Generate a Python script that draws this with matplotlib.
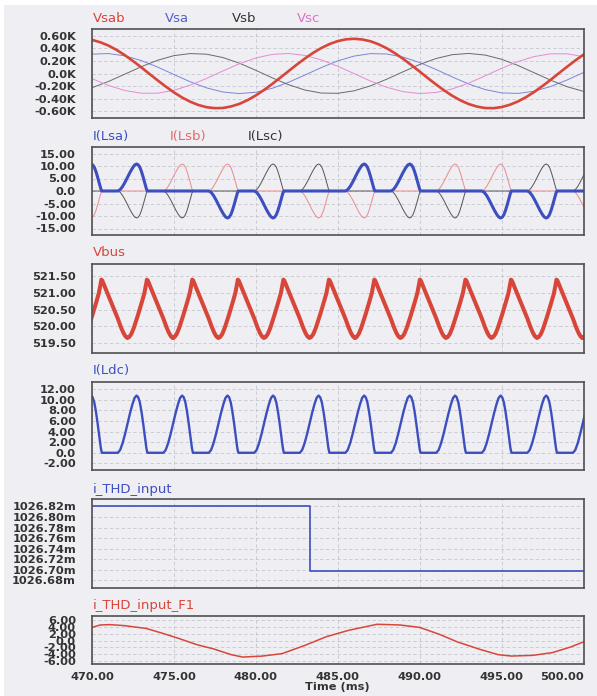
import matplotlib.pyplot as plt
from matplotlib.patches import Rectangle

plt.rcParams['font.family'] = ['DejaVu Sans']

# ---- values (time in ms) ----
t_src = list(range(470, 501))
t_sab = [470 + 0.5 * i for i in range(61)]
vsab = [536, 499, 446, 376, 293, 199, 100, -5, -108, -208, -301, -383, -451, -503, -538, -553,
        -550, -525, -484, -424, -350, -263, -167, -65, 39, 142, 240, 330, 407, 470, 517, 545,
        554, 543, 514, 465, 401, 322, 232, 133, 31, -74, -175, -271, -357, -430, -488, -528,
        -551, -553, -536, -499, -446, -376, -293, -199, -100, 5, 108, 208, 301]
vsa = [309, 318, 282, 207, 103, -16, -133, -230, -296, -320, -299, -236, -140, -24, 95, 201,
       278, 317, 311, 261, 175, 64, -56, -168, -257, -309, -318, -282, -207, -103, 16]
vsb = [-227, -128, -11, 107, 211, 285, 318, 308, 254, 164, 51, -69, -179, -264, -312, -316,
       -276, -197, -90, 29, 144, 239, 301, 320, 294, 227, 128, 11, -107, -211, -285]
vsc = [-82, -190, -271, -314, -314, -269, -185, -78, 42, 156, 248, 305, 319, 288, 217, 115,
       -2, -120, -221, -290, -319, -303, -245, -152, -37, 82, 190, 271, 314, 314, 269]

# diode conduction pulses: peak time, peak current, phase carrying + and - current
pulse_peak_t = [469.94, 472.72, 475.50, 478.27, 481.05, 483.83, 486.61, 489.39,
                492.16, 494.94, 497.72, 500.50]
pulse_peak_i = [10.8, 10.8, 10.8, 10.8, 10.8, 10.8, 10.8, 10.8, 10.8, 10.8, 10.8, 10.8]
pulse_pos = ['a', 'a', 'b', 'b', 'c', 'c', 'a', 'a', 'b', 'b', 'c', 'c']
pulse_neg = ['b', 'c', 'c', 'a', 'a', 'b', 'b', 'c', 'c', 'a', 'a', 'b']
# one current pulse: offset from its peak (ms) and fraction of the peak
pulse_dt = [-1.14, -1.00, -0.85, -0.70, -0.55, -0.40, -0.25, -0.12, 0.0,
            0.10, 0.20, 0.30, 0.40, 0.50, 0.60, 0.66]
pulse_frac = [0.0, 0.05, 0.17, 0.33, 0.51, 0.69, 0.85, 0.96, 1.0,
              0.97, 0.88, 0.72, 0.52, 0.30, 0.08, 0.0]

# dc bus ripple: peak times and one ripple cycle around a peak
vbus_peak_t = [470.57, 473.35, 476.12, 478.90, 481.68, 484.46, 487.23, 490.01,
               492.79, 495.57, 498.35, 501.12]
vbus_dt = [-1.19, -1.08, -0.95, -0.80, -0.55, -0.30, -0.15, -0.07, -0.02, 0.0,
           0.05, 0.12, 0.25, 1.00, 1.20, 1.35, 1.47, 1.588]
vbus_val = [519.65, 519.68, 519.77, 519.95, 520.33, 520.74, 521.00, 521.20, 521.34, 521.40,
            521.38, 521.30, 521.14, 520.24, 519.97, 519.80, 519.70, 519.65]

# THD of input current (m units)
thd_t = [470.0, 483.3, 483.3, 500.0]
thd_val = [1026.82, 1026.82, 1026.697, 1026.697]

f1_t = [470.0, 470.5, 471.1, 472.0, 473.3, 474.3, 475.3, 476.4, 477.4, 478.5, 479.2, 480.4,
        481.6, 483.0, 484.3, 485.7, 487.4, 488.8, 490.0, 491.2, 492.3, 493.7, 494.8, 495.6,
        496.9, 498.1, 499.2, 500.0]
f1_val = [3.8, 4.5, 4.6, 4.3, 3.5, 2.1, 0.6, -1.2, -2.4, -4.1, -4.8, -4.5,
          -3.8, -1.4, 1.1, 3.0, 4.7, 4.5, 3.8, 1.8, -0.4, -2.6, -4.1, -4.5,
          -4.3, -3.5, -1.9, -0.4]

# ticks
x_ticks = [470, 475, 480, 485, 490, 495, 500]
x_labels = ['470.00', '475.00', '480.00', '485.00', '490.00', '495.00', '500.00']
v_ticks = [600, 400, 200, 0, -200, -400, -600]
v_labels = ['0.60K', '0.40K', '0.20K', '0.0K', '-0.20K', '-0.40K', '-0.60K']
i_ticks = [15, 10, 5, 0, -5, -10, -15]
i_labels = ['15.00', '10.00', '5.00', '0.0', '-5.00', '-10.00', '-15.00']
bus_ticks = [521.5, 521.0, 520.5, 520.0, 519.5]
bus_labels = ['521.50', '521.00', '520.50', '520.00', '519.50']
dc_ticks = [12, 10, 8, 6, 4, 2, 0, -2]
dc_labels = ['12.00', '10.00', '8.00', '6.00', '4.00', '2.00', '0.0', '-2.00']
thd_ticks = [1026.82, 1026.80, 1026.78, 1026.76, 1026.74, 1026.72, 1026.70, 1026.68]
thd_labels = ['1026.82m', '1026.80m', '1026.78m', '1026.76m', '1026.74m', '1026.72m',
              '1026.70m', '1026.68m']
f1_ticks = [6, 4, 2, 0, -2, -4, -6]
f1_labels = ['6.00', '4.00', '2.00', '0.0', '-2.00', '-4.00', '-6.00']

RED = '#d8463a'
BLUE = '#3d4fbf'
BG = '#eeeef3'
W, H = 597, 696


def pulse_train(phase=None):
    # stitch the pulses together; phase=None gives the dc link current
    t, v = [460.0], [0.0]
    for pk, amp, p, n in zip(pulse_peak_t, pulse_peak_i, pulse_pos, pulse_neg):
        if phase is None or p == phase:
            s = 1
        elif n == phase:
            s = -1
        else:
            continue
        for dt, fr in zip(pulse_dt, pulse_frac):
            t.append(pk + dt)
            v.append(s * amp * fr)
    t.append(510.0)
    v.append(0.0)
    return t, v


def rect(top, bottom):
    return [92 / W, 1 - bottom / H, (583.5 - 92) / W, (bottom - top) / H]


def style(ax, ticks, labels, lim):
    ax.set_facecolor(BG)
    ax.set_xlim(470, 500)
    ax.set_ylim(*lim)
    ax.set_xticks(x_ticks)
    ax.set_yticks(ticks)
    ax.set_yticklabels(labels, fontweight='bold')
    ax.tick_params(length=0, pad=11.5, labelsize=8.2, labelcolor='#333333',
                   labelbottom=False)
    ax.grid(True, color='#c6c6d0', ls=(0, (4, 3)), lw=0.6)
    for sp in ax.spines.values():
        sp.set_color('#505050')
        sp.set_linewidth(1.2)


def title(x, y, s, color):
    fig.text(x / W, 1 - y / H, s, color=color, fontsize=9.5, ha='left', va='center')


fig = plt.figure(figsize=(5.97, 6.96), dpi=100, facecolor='white')
fig.patches.append(Rectangle((4 / W, 0), 1, 1 - 5 / H, transform=fig.transFigure,
                             facecolor=BG, edgecolor='none', zorder=-10))

# source voltages
ax1 = fig.add_axes(rect(29, 118))
style(ax1, v_ticks, v_labels, (-710, 710))
ax1.plot(t_src, vsa, color='#7b86d6', lw=0.7)
ax1.plot(t_src, vsb, color='#6a6a6a', lw=0.7)
ax1.plot(t_src, vsc, color='#e58bd6', lw=0.7)
ax1.plot(t_sab, vsab, color=RED, lw=1.9)
title(92.5, 19, 'Vsab', RED)
title(165, 19, 'Vsa', '#5262c8')
title(232, 19, 'Vsb', '#333333')
title(297, 19, 'Vsc', '#e070c8')

# line currents
ax2 = fig.add_axes(rect(147, 235))
style(ax2, i_ticks, i_labels, (-17.6, 17.6))
tb, ib = pulse_train('b')
tc, ic = pulse_train('c')
ta, ia = pulse_train('a')
ax2.plot(tb, ib, color='#eb8b8b', lw=0.7)
ax2.plot(tc, ic, color='#555555', lw=0.7)
ax2.plot(ta, ia, color=BLUE, lw=2.2)
title(92.5, 136.5, 'I(Lsa)', BLUE)
title(169.5, 136.5, 'I(Lsb)', '#e06a6a')
title(247.5, 136.5, 'I(Lsc)', '#333333')

# dc bus voltage
ax3 = fig.add_axes(rect(264, 353))
style(ax3, bus_ticks, bus_labels, (519.2, 521.87))
bt, bv = [], []
for pk in vbus_peak_t:
    bt += [pk + dt for dt in vbus_dt]
    bv += vbus_val
ax3.plot(bt, bv, color=RED, lw=2.9, solid_joinstyle='round')
title(92.5, 253, 'Vbus', RED)

# dc link current
ax4 = fig.add_axes(rect(382, 470))
style(ax4, dc_ticks, dc_labels, (-3.25, 13.36))
td, idc = pulse_train()
ax4.plot(td, idc, color=BLUE, lw=1.7)
title(92.5, 370.5, 'I(Ldc)', BLUE)

# THD
ax5 = fig.add_axes(rect(499, 587.5))
style(ax5, thd_ticks, thd_labels, (1026.6666, 1026.834))
ax5.plot(thd_t, thd_val, color=BLUE, lw=1.2)
title(92.5, 489, 'i_THD_input', BLUE)

ax6 = fig.add_axes(rect(616, 664))
style(ax6, f1_ticks, f1_labels, (-6.8, 7.1))
ax6.plot(f1_t, f1_val, color=RED, lw=1.1)
title(92.5, 605, 'i_THD_input_F1', RED)
ax6.tick_params(axis='x', labelbottom=True, pad=5.8)
ax6.set_xticklabels(x_labels, fontweight='bold')
ax6.get_xticklabels()[-1].set_horizontalalignment('right')
fig.text(337.7 / W, 1 - 686.5 / H, 'Time (ms)', fontsize=8.2, fontweight='bold',
         color='#333333', ha='center', va='center')

fig.savefig('out.png', dpi=100, facecolor=fig.get_facecolor())
